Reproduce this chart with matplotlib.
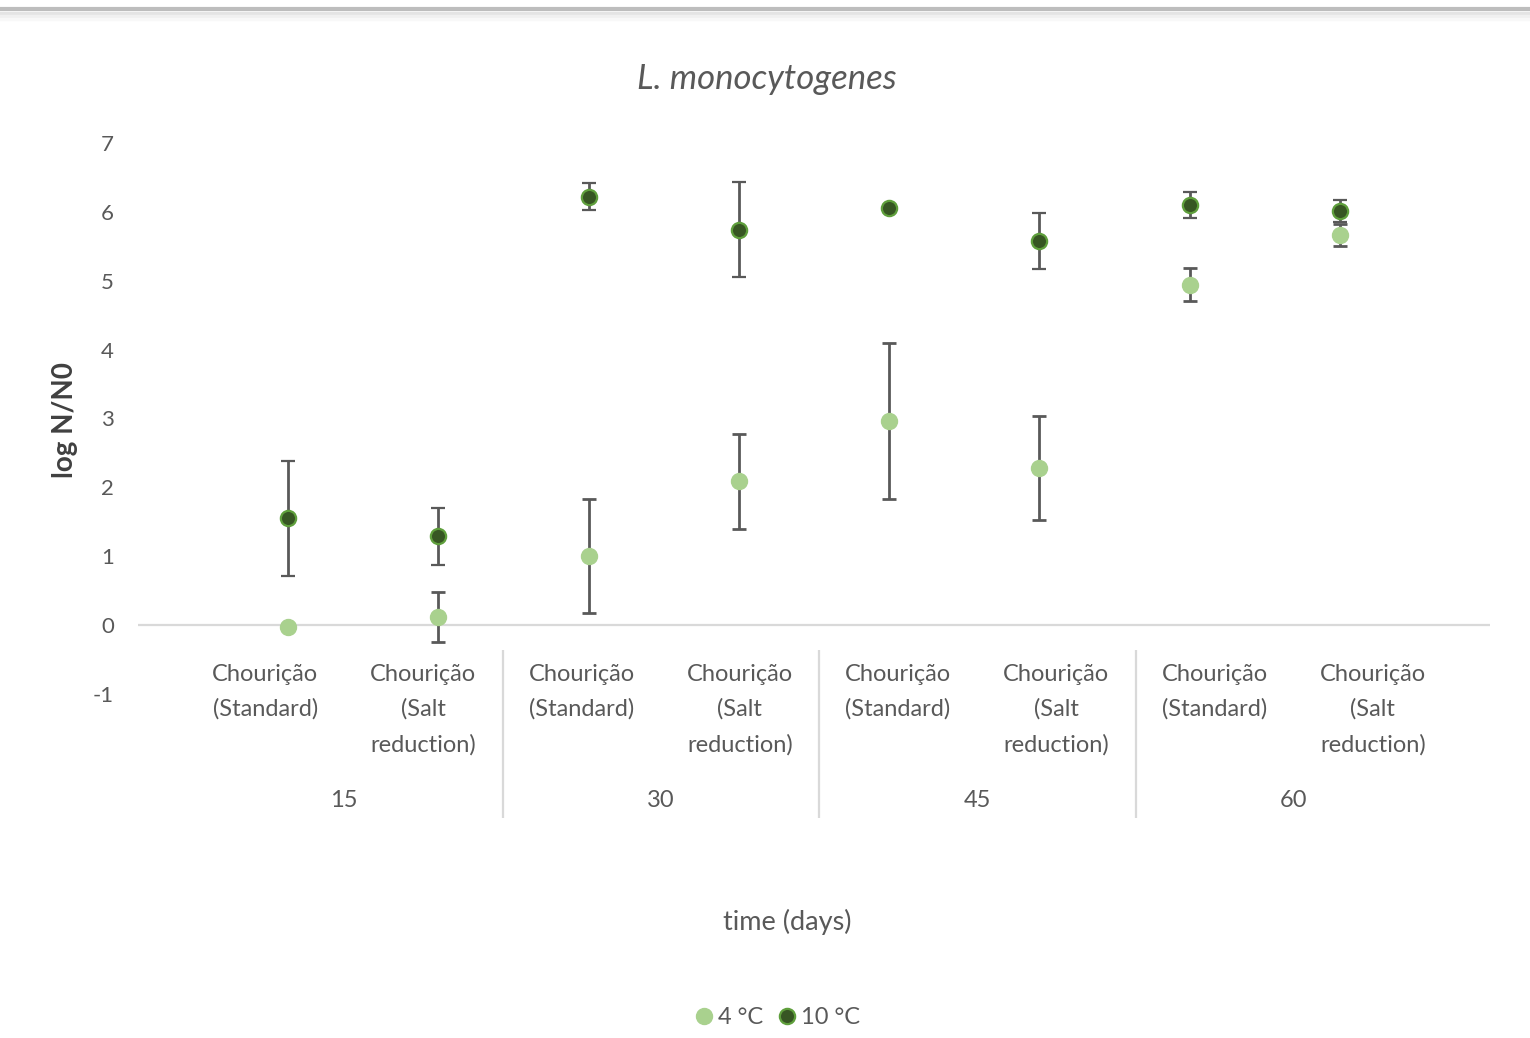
import matplotlib
matplotlib.use("Agg")
import matplotlib.pyplot as plt
from matplotlib.lines import Line2D
import numpy as np

plt.rcParams['font.family'] = ['Lato', 'DejaVu Sans']
plt.rcParams['axes.unicode_minus'] = False

# data (log N/N0, mean and error)
samples = ['Chourição\n(Standard)', 'Chourição\n(Salt\nreduction)'] * 4
days = ['15', '30', '45', '60']
x_pos = np.arange(1, 9)

cold_mean = [-0.03, 0.12, 1.00, 2.09, 2.96, 2.28, 4.94, 5.66]
cold_err = [0.0, 0.36, 0.83, 0.69, 1.13, 0.76, 0.24, 0.16]
warm_mean = [1.55, 1.29, 6.22, 5.74, 6.06, 5.58, 6.10, 6.01]
warm_err = [0.84, 0.41, 0.20, 0.69, 0.0, 0.41, 0.19, 0.16]

light_green = '#a9d18e'
dark_green = '#375623'
ring_green = '#5f9f3c'
bar_grey = '#595959'
text_grey = '#595959'

W, H = 1530, 1038
fig = plt.figure(figsize=(W / 100, H / 100), dpi=100)
fig.patch.set_facecolor('white')

# main plotting area
ax = fig.add_axes([137.7 / W, 1 - 694 / H, (1490.3 - 137.7) / W, (694 - 143) / H])
ax.set_xlim(0, 9)
ax.set_ylim(-1, 7)
for s in ax.spines.values():
    s.set_visible(False)
ax.axhline(0, color='#d9d9d9', lw=1.6, zorder=1)
ax.set_xticks([])
ax.set_yticks(range(-1, 8))
ax.tick_params(axis='y', length=0, pad=17, labelsize=16, labelcolor=text_grey)

ax.errorbar(x_pos, cold_mean, yerr=cold_err, fmt='o', ms=11.5, mfc=light_green,
            mec=light_green, ecolor=bar_grey, elinewidth=2, capsize=4.8,
            capthick=2, zorder=3)
ax.errorbar(x_pos, warm_mean, yerr=warm_err, fmt='o', ms=11, mfc=dark_green,
            mec=ring_green, mew=1.6, ecolor=bar_grey, elinewidth=2, capsize=4.8,
            capthick=2, zorder=4)

fig.text(65 / W, 1 - 420 / H, 'log N/N0', rotation=90, ha='center', va='center',
         fontsize=20, fontweight='bold', color='#404040')
fig.text(767 / W, 1 - 89 / H, 'L. monocytogenes', ha='center', va='baseline',
         fontsize=25, style='italic', color=text_grey)

# category axis below the plot
cax = fig.add_axes([186 / W, 1 - 818 / H, (1452 - 186) / W, (818 - 650) / H])
cax.set_xlim(0, 8)
cax.set_ylim(0, 1)
cax.axis('off')
for i, lab in enumerate(samples):
    cax.text(i + 0.5, 0.918, lab, ha='center', va='top', fontsize=17,
             color=text_grey, linespacing=1.78)
for j, d in enumerate(days):
    cax.text(2 * j + 1, 0.105, d, ha='center', va='center', fontsize=17, color=text_grey)
for b in [2, 4, 6]:
    cax.axvline(b, 0, 1, color='#d9d9d9', lw=1.6)

fig.text(787 / W, 1 - 922 / H, 'time (days)', ha='center', va='center',
         fontsize=19.5, color=text_grey)

handles = [Line2D([], [], ls='none', marker='o', ms=11.5, mfc=light_green, mec=light_green),
           Line2D([], [], ls='none', marker='o', ms=11, mfc=dark_green, mec=ring_green, mew=1.6)]
fig.legend(handles, ['4 °C', '10 °C'], loc='center', bbox_to_anchor=(777 / W, 1 - 1018 / H),
           ncol=2, frameon=False, fontsize=17, handletextpad=0.15, columnspacing=0.55,
           labelcolor=text_grey, handlelength=0.9)

# grey border at the top of the picture
for yy, c, lw in [(9, '#bdbdbd', 3.0), (12.5, '#e4e4e4', 2.5), (15.5, '#f0f0f0', 2.5), (18.5, '#f8f8f8', 2.5)]:
    fig.add_artist(Line2D([0, 1], [1 - yy / H, 1 - yy / H], color=c, lw=lw))

fig.savefig('out.png', dpi=100, facecolor='white')
